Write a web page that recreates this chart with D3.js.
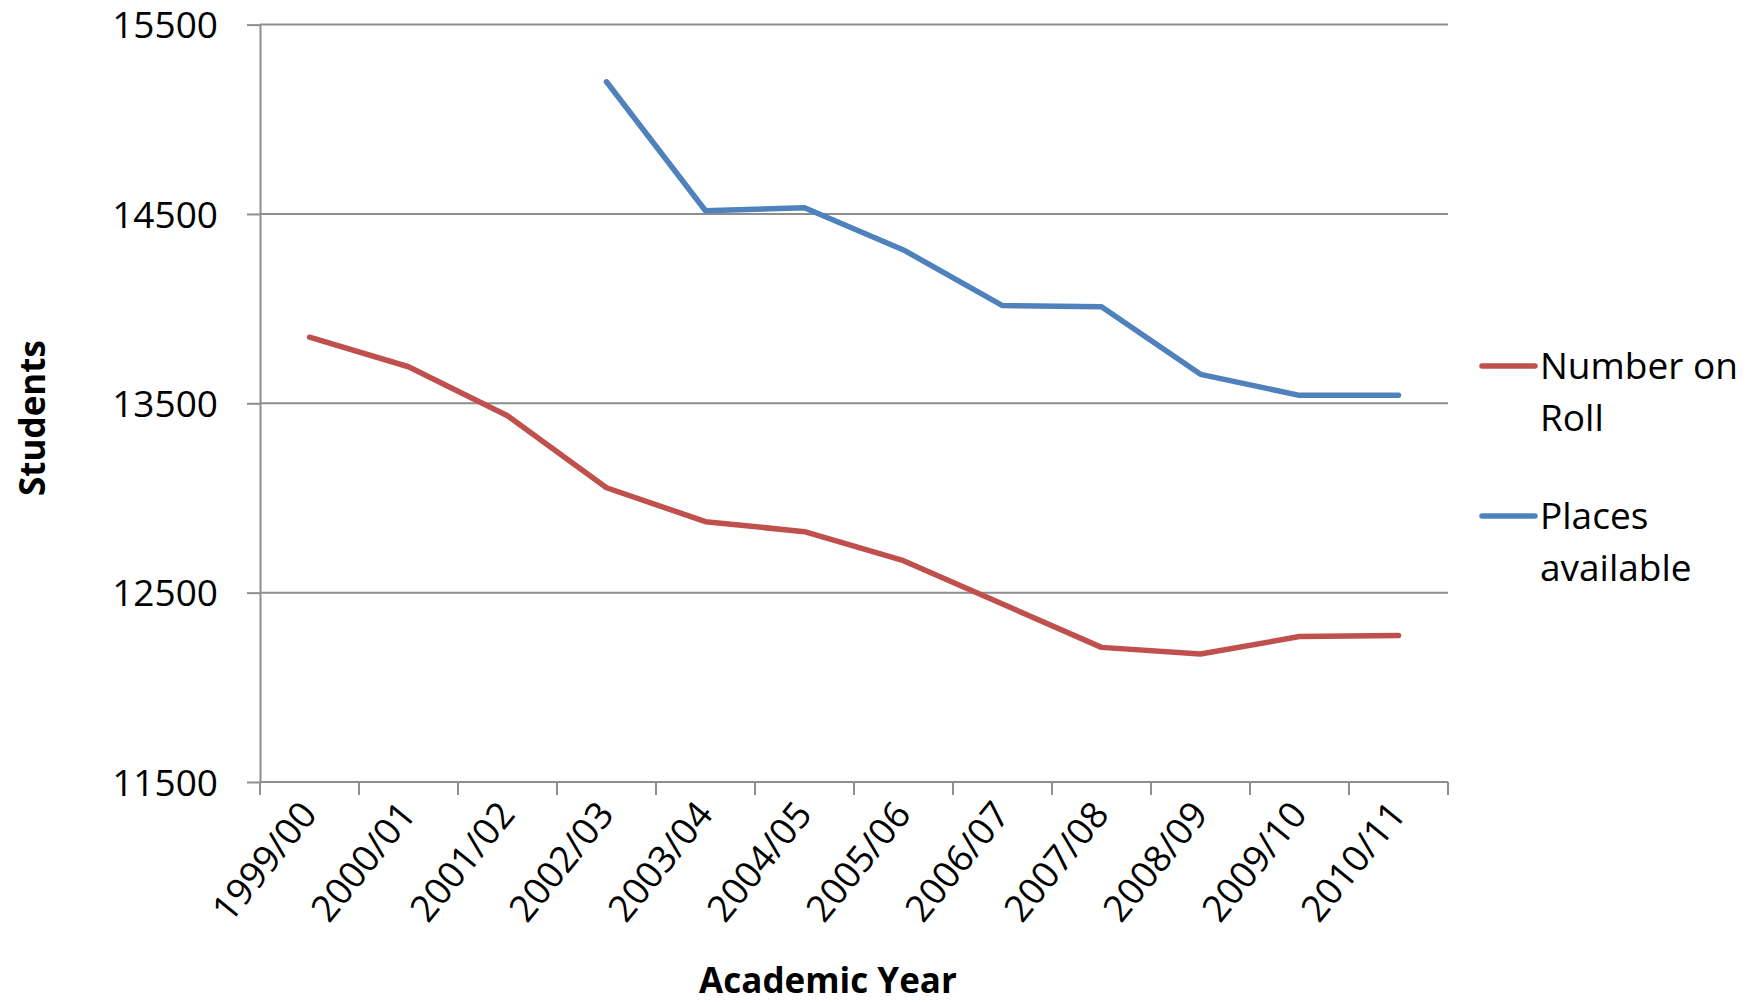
<!doctype html>
<html lang="en">
<head>
  <meta charset="utf-8">
  <title>Students - Number on Roll vs Places available</title>
</head>
<body style="overflow: hidden; margin: 0; background: #fff;">
  <script src="https://cdnjs.cloudflare.com/ajax/libs/d3/7.8.5/d3.min.js"></script>
  <style>
    text { font-family: "Open Sans", "Noto Sans", sans-serif; fill: #000; }
  </style>

  <script type="text/javascript">

    // data
    const years = ["1999/00", "2000/01", "2001/02", "2002/03", "2003/04", "2004/05",
                   "2005/06", "2006/07", "2007/08", "2008/09", "2009/10", "2010/11"];
    const numberOnRoll = [13849, 13693, 13434, 13054, 12875, 12822,
                          12669, 12440, 12211, 12176, 12268, 12274];
    const placesAvailable = [null, null, null, 15198, 14517, 14533,
                             14310, 14016, 14010, 13653, 13542, 13542];
    const yTicks = [11500, 12500, 13500, 14500, 15500];
    const seriesNames = ["Number on Roll", "Places available"];
    const legendLines = [["Number on", "Roll"], ["Places", "available"]];

    var config = {
      "width": 1749,
      "height": 1003,
      "left": 260,
      "right": 1448,
      "top": 24.6,
      "bottom": 782,
      "gridColor": "#8e8e8e",
      "colors": ["#C0504D", "#4F81BD"]
    }

    let svg = d3.select("body").append("svg")
      .attr("width", config.width)
      .attr("height", config.height);

    let xScale = d3.scaleBand()
      .domain(years)
      .range([config.left, config.right])
      .padding(0);
    let yScale = d3.scaleLinear()
      .domain([11500, 15500])
      .range([config.bottom, config.top]);

    let cx = d => xScale(d) + xScale.bandwidth() / 2;

    // horizontal gridlines
    svg.append("g")
      .selectAll("line")
      .data(yTicks.slice(1))
      .enter().append("line")
      .attr("x1", config.left)
      .attr("x2", config.right)
      .attr("y1", d => yScale(d))
      .attr("y2", d => yScale(d))
      .attr("stroke", config.gridColor)
      .attr("stroke-width", 2);

    // y axis
    let yAxis = svg.append("g")
      .attr("transform", "translate(" + config.left + ",0)")
      .call(d3.axisLeft(yScale).tickValues(yTicks).tickSize(13).tickPadding(29).tickSizeOuter(0).tickFormat(d3.format("d")));
    yAxis.select(".domain").attr("stroke", config.gridColor).attr("stroke-width", 2);
    yAxis.selectAll(".tick line").attr("stroke", config.gridColor).attr("stroke-width", 2);
    yAxis.selectAll(".tick text")
      .style("font-size", "37px")
      .style("font-family", "'Open Sans', 'Noto Sans', sans-serif")
      .attr("fill", "#000")
      .attr("dy", "0.36em");

    // x axis line + ticks between categories
    svg.append("line")
      .attr("x1", config.left)
      .attr("x2", config.right)
      .attr("y1", config.bottom)
      .attr("y2", config.bottom)
      .attr("stroke", config.gridColor)
      .attr("stroke-width", 2);

    let edges = years.map(d => xScale(d)).concat([config.right]);
    svg.append("g")
      .selectAll("line")
      .data(edges)
      .enter().append("line")
      .attr("x1", d => d)
      .attr("x2", d => d)
      .attr("y1", config.bottom)
      .attr("y2", config.bottom + 13)
      .attr("stroke", config.gridColor)
      .attr("stroke-width", 2);

    svg.append("g")
      .selectAll("text")
      .data(years)
      .enter().append("text")
      .attr("transform", d => "translate(" + (cx(d) + 9) + "," + (config.bottom + 33) + ") rotate(-51)")
      .attr("text-anchor", "end")
      .style("font-size", "37px")
      .text(d => d);

    // axis titles
    svg.append("text")
      .attr("x", 828)
      .attr("y", 993)
      .attr("text-anchor", "middle")
      .style("font-size", "35px")
      .style("font-weight", "bold")
      .text("Academic Year");

    svg.append("text")
      .attr("transform", "translate(45," + 418 + ") rotate(-90)")
      .attr("text-anchor", "middle")
      .style("font-size", "35px")
      .style("font-weight", "bold")
      .text("Students");

    // series lines
    let line = d3.line()
      .defined(d => d.v != null)
      .x(d => cx(d.year))
      .y(d => yScale(d.v));

    [numberOnRoll, placesAvailable].forEach((values, i) => {
      let pts = years.map((y, j) => ({ year: y, v: values[j] }));
      svg.append("path")
        .datum(pts)
        .attr("d", line)
        .attr("fill", "none")
        .attr("stroke", config.colors[i])
        .attr("stroke-width", 5.5)
        .attr("stroke-linejoin", "round")
        .attr("stroke-linecap", "round");
    });

    // legend
    let legendY = [366, 516];
    seriesNames.forEach((name, i) => {
      let g = svg.append("g").attr("class", "legend-item");
      g.append("line")
        .attr("x1", 1482)
        .attr("x2", 1535)
        .attr("y1", legendY[i])
        .attr("y2", legendY[i])
        .attr("stroke", config.colors[i])
        .attr("stroke-width", 5.5)
        .attr("stroke-linecap", "round");
      legendLines[i].forEach((t, k) => {
        g.append("text")
          .attr("x", 1540)
          .attr("y", legendY[i] + 13 + k * 51.5)
          .style("font-size", "37px")
          .text(t);
      });
    });
  </script>
</body>

</html>
